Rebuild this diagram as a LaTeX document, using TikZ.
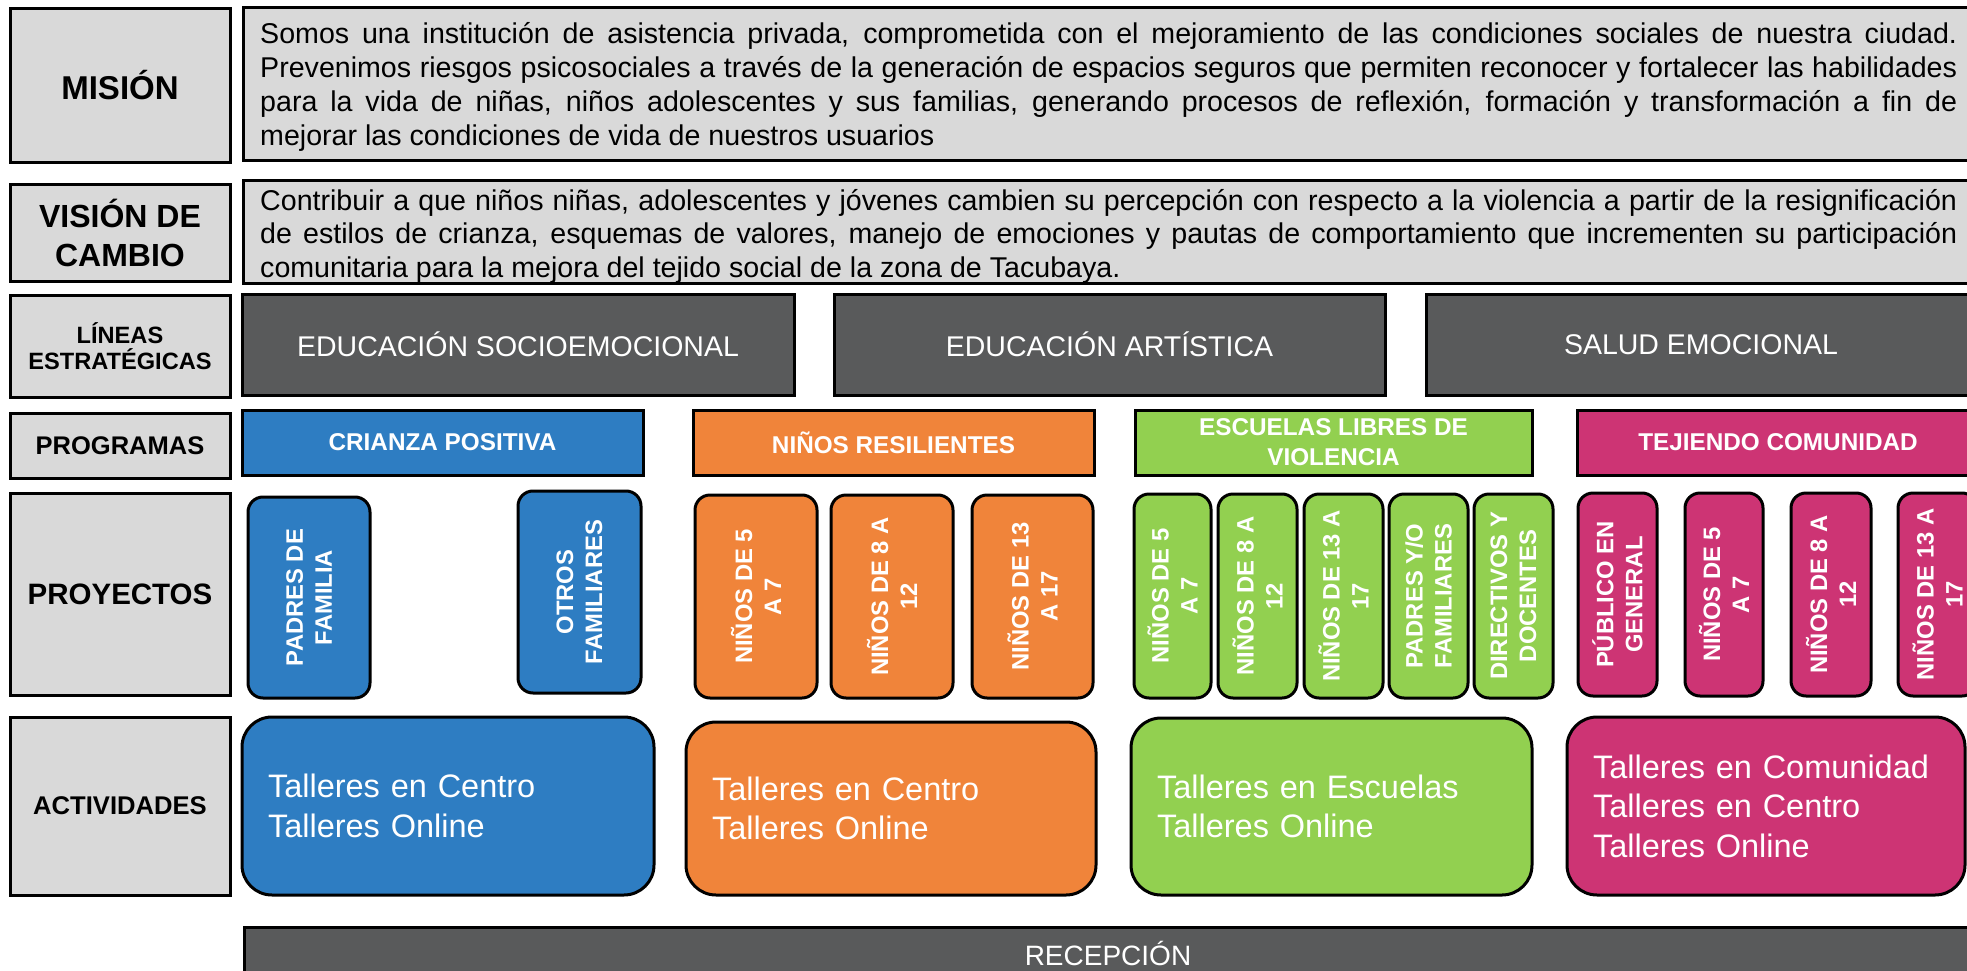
\documentclass[tikz,border=0pt]{standalone}
\usepackage{fontspec}
\setmainfont{Liberation Sans}
\definecolor{lblgray}{RGB}{217,217,217}
\definecolor{dkgray}{RGB}{89,90,91}
\definecolor{cblue}{RGB}{46,125,194}
\definecolor{corange}{RGB}{240,132,58}
\definecolor{cgreen}{RGB}{146,208,80}
\definecolor{cpink}{RGB}{205,52,116}
\newcommand\fs[2]{\fontsize{#1}{#2}\selectfont}
\newcommand\jl[1]{{\spaceskip=0.278em plus 3em minus 0.06em\xspaceskip=\spaceskip\makebox[1697pt][s]{#1}}}
\newcommand\nl[1]{{\spaceskip=0.278em\xspaceskip=\spaceskip #1}}
\begin{document}
\begin{tikzpicture}[x=1pt,y=-1pt,
  base/.style={draw=black, line width=3pt, inner sep=0pt},
  lbl/.style={base, fill=lblgray, align=center},
  dark/.style={base, fill=dkgray, text=white, font=\fs{28.5}{34}},
  prog/.style={base, text=white, align=center, font=\bfseries\fs{24.3}{30}},
  proj/.style={base, rounded corners=15pt, rotate=90, text=white, align=center, font=\bfseries\fs{23.8}{29}},
  act/.style={base, rounded corners=30pt, text=white, align=left, font=\fs{32.5}{39.5}},
  para/.style={anchor=north west, inner sep=0pt, text width=1697pt, align=left, font=\fs{28.6}{34}}
]
\useasboundingbox (0,0) rectangle (1967,971);
\fill[white] (0,0) rectangle (1967,971);
\clip (0,0) rectangle (1967,971);

% left labels
\node[lbl, minimum width=220pt, minimum height=153pt, font=\bfseries\fs{33}{40}] (lmision) at (120,85.5) {MISIÓN};
\node[lbl, minimum width=220pt, minimum height=97pt, font=\bfseries\fs{32}{39}] (lvision) at (120,233) {VISIÓN DE\\CAMBIO};
\node[lbl, minimum width=220pt, minimum height=102pt, font=\bfseries\fs{23.6}{26}] (llineas) at (120,346) {LÍNEAS\\ESTRATÉGICAS};
\node[lbl, minimum width=220pt, minimum height=65pt, font=\bfseries\fs{25.5}{30}] (lprog) at (120,445.5) {PROGRAMAS};
\node[lbl, minimum width=220pt, minimum height=202pt, font=\bfseries\fs{29.5}{34}] (lproy) at (120,594) {PROYECTOS};
\node[lbl, minimum width=220pt, minimum height=178pt, font=\bfseries\fs{25.6}{30}] (lact) at (120,806) {ACTIVIDADES};

% mission & vision boxes
\node[lbl, minimum width=1747pt, minimum height=152pt] (bmision) at (1116.5,84) {};
\node[para] (tmision) at (260,22) {%
\jl{Somos una institución de asistencia privada, comprometida con el mejoramiento de las condiciones sociales de nuestra ciudad.}\\
\jl{Prevenimos riesgos psicosociales a través de la generación de espacios seguros que permiten reconocer y fortalecer las habilidades}\\
\jl{para la vida de niñas, niños adolescentes y sus familias, generando procesos de reflexión, formación y transformación a fin de}\\
\nl{mejorar las condiciones de vida de nuestros usuarios}};

\node[lbl, minimum width=1747pt, minimum height=103pt] (bvision) at (1116.5,231.5) {};
\node[para, font=\fs{28.6}{33.5}] (tvision) at (260,189) {%
\jl{Contribuir a que niños niñas, adolescentes y jóvenes cambien su percepción con respecto a la violencia a partir de la resignificación}\\
\jl{de estilos de crianza, esquemas de valores, manejo de emociones y pautas de comportamiento que incrementen su participación}\\
\nl{comunitaria para la mejora del tejido social de la zona de Tacubaya.}};

% strategic lines
\node[dark, minimum width=552pt, minimum height=101pt] (d1) at (518,344.5) {EDUCACIÓN SOCIOEMOCIONAL};
\node[dark, minimum width=551pt, minimum height=101pt] (d2) at (1109.5,344.5) {EDUCACIÓN ARTÍSTICA};
\node[dark, minimum width=550pt, minimum height=101pt] (d3) at (1701,344.5) {SALUD EMOCIONAL};

% programs
\node[prog, fill=cblue, minimum width=401pt, minimum height=65pt] (g1) at (442.5,442.5) {CRIANZA POSITIVA};
\node[prog, fill=corange, minimum width=401pt, minimum height=65pt] (g2) at (893.5,442.5) {NIÑOS RESILIENTES};
\node[prog, fill=cgreen, minimum width=397pt, minimum height=65pt] (g3) at (1333.5,442.5) {ESCUELAS LIBRES DE\\VIOLENCIA};
\node[prog, fill=cpink, minimum width=402pt, minimum height=65pt] (g4) at (1778,442.5) {TEJIENDO COMUNIDAD};

% projects (rotated: minimum width = vertical extent)
\node[proj, fill=cblue, minimum width=201pt, minimum height=122pt] (pb1) at (309,597.5) {PADRES DE\\FAMILIA};
\node[proj, fill=cblue, minimum width=202pt, minimum height=123pt] (pb2) at (579.5,592) {OTROS\\FAMILIARES};

\node[proj, fill=corange, minimum width=203pt, minimum height=122pt] (po1) at (756,596.5) {NIÑOS DE 5\\A 7};
\node[proj, fill=corange, minimum width=203pt, minimum height=122pt] (po2) at (892,596.5) {NIÑOS DE 8 A\\12};
\node[proj, fill=corange, minimum width=203pt, minimum height=121pt] (po3) at (1032.5,596.5) {NIÑOS DE 13\\A 17};

\node[proj, fill=cgreen, minimum width=204pt, minimum height=77pt] (pg1) at (1172.5,596) {NIÑOS DE 5\\A 7};
\node[proj, fill=cgreen, minimum width=204pt, minimum height=79pt] (pg2) at (1257.5,596) {NIÑOS DE 8 A\\12};
\node[proj, fill=cgreen, minimum width=204pt, minimum height=79pt] (pg3) at (1343.5,596) {NIÑOS DE 13 A\\17};
\node[proj, fill=cgreen, minimum width=204pt, minimum height=79pt] (pg4) at (1428.5,596) {PADRES Y/O\\FAMILIARES};
\node[proj, fill=cgreen, minimum width=204pt, minimum height=79pt] (pg5) at (1513.5,596) {DIRECTIVOS Y\\DOCENTES};

\node[proj, fill=cpink, minimum width=203pt, minimum height=79pt] (pp1) at (1617.5,594.5) {PÚBLICO EN\\GENERAL};
\node[proj, fill=cpink, minimum width=203pt, minimum height=78pt] (pp2) at (1724,594.5) {NIÑOS DE 5\\A 7};
\node[proj, fill=cpink, minimum width=203pt, minimum height=80pt] (pp3) at (1831,594.5) {NIÑOS DE 8 A\\12};
\node[proj, fill=cpink, minimum width=203pt, minimum height=79pt] (pp4) at (1937.5,594.5) {NIÑOS DE 13 A\\17};

% activities
\node[act, fill=cblue, minimum width=412pt, minimum height=178pt, text width=360pt] (a1) at (448,806) {Talleres en Centro\\Talleres Online};
\node[act, fill=corange, minimum width=410pt, minimum height=173pt, text width=358pt] (a2) at (891,808.5) {Talleres en Centro\\Talleres Online};
\node[act, fill=cgreen, minimum width=401pt, minimum height=177pt, text width=349pt] (a3) at (1331.5,806.5) {Talleres en Escuelas\\Talleres Online};
\node[act, fill=cpink, minimum width=398pt, minimum height=178pt, text width=346pt] (a4) at (1766,806) {Talleres en Comunidad\\Talleres en Centro\\Talleres Online};

% reception
\node[dark, minimum width=1728pt, minimum height=52pt, font=\fs{28}{34}] (rec) at (1108,953) {RECEPCIÓN};
\end{tikzpicture}
\end{document}
